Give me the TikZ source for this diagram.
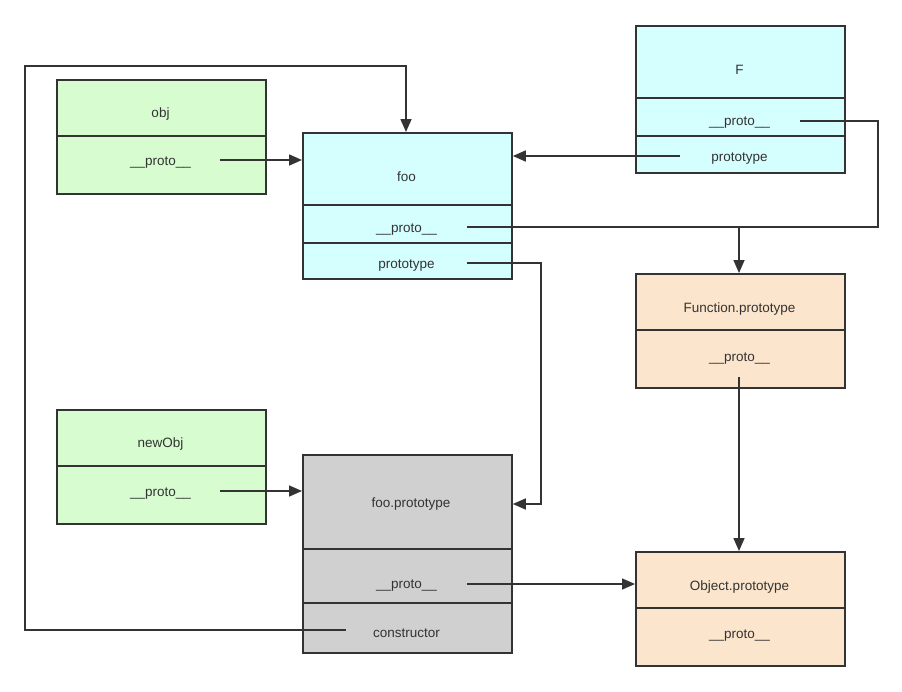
\documentclass[tikz,border=0pt]{standalone}
\usepackage{fontspec}
\setmainfont{Liberation Sans}
\usetikzlibrary{arrows.meta}
\definecolor{cyanfill}{HTML}{D5FEFF}
\definecolor{greenfill}{HTML}{D6FCD0}
\definecolor{peachfill}{HTML}{FCE5CD}
\definecolor{grayfill}{HTML}{D0D0D0}
\definecolor{edge}{HTML}{333333}
\definecolor{txt}{HTML}{333333}
\tikzset{
  box/.style={draw=edge, line width=1.8pt, anchor=north west, inner sep=0pt},
  divider/.style={draw=edge, line width=1.3pt},
  lbl/.style={text=txt, font=\fontsize{13.5}{16}\selectfont, inner sep=1pt, yshift=-1.5pt},
  conn/.style={draw=edge, line width=1.6pt},
  arr/.style={conn, -{Triangle[length=13pt,width=11pt]}}
}
\begin{document}
\begin{tikzpicture}[x=1pt,y=-1pt]
\useasboundingbox (0,0) rectangle (902,691);
% F
\node[box, fill=cyanfill, minimum width=209pt, minimum height=147pt] (F) at (635,25) {};
\draw[divider] (635,98) -- (844,98);
\draw[divider] (635,136) -- (844,136);
\node[lbl] (Ft) at (739.5,68) {F};
\node[lbl] (Fp) at (739.5,121) {\_\_proto\_\_};
\node[lbl] (Fpr) at (739.5,157) {prototype};
% obj
\node[box, fill=greenfill, minimum width=209pt, minimum height=114pt] (obj) at (56,79) {};
\draw[divider] (56,136) -- (265,136);
\node[lbl] (objt) at (160.5,113) {obj};
\node[lbl] (objp) at (160.5,161) {\_\_proto\_\_};
% foo
\node[box, fill=cyanfill, minimum width=209pt, minimum height=146pt] (foo) at (302,132) {};
\draw[divider] (302,205) -- (511,205);
\draw[divider] (302,243) -- (511,243);
\node[lbl] (foot) at (406.5,175) {foo};
\node[lbl] (foop) at (406.5,228) {\_\_proto\_\_};
\node[lbl] (foopr) at (406.5,264) {prototype};
% Function.prototype
\node[box, fill=peachfill, minimum width=209pt, minimum height=114pt] (FP) at (635,273) {};
\draw[divider] (635,330) -- (844,330);
\node[lbl] (FPt) at (739.5,308) {Function.prototype};
\node[lbl] (FPp) at (739.5,357) {\_\_proto\_\_};
% newObj
\node[box, fill=greenfill, minimum width=209pt, minimum height=114pt] (nobj) at (56,409) {};
\draw[divider] (56,466) -- (265,466);
\node[lbl] (nobjt) at (160.5,443) {newObj};
\node[lbl] (nobjp) at (160.5,492) {\_\_proto\_\_};
% foo.prototype
\node[box, fill=grayfill, minimum width=209pt, minimum height=198pt] (fp) at (302,454) {};
\draw[divider] (302,549) -- (511,549);
\draw[divider] (302,603) -- (511,603);
\node[lbl] (fpt) at (411,503) {foo.prototype};
\node[lbl] (fpp) at (406.5,584) {\_\_proto\_\_};
\node[lbl] (fpc) at (406.5,632) {constructor};
% Object.prototype
\node[box, fill=peachfill, minimum width=209pt, minimum height=114pt] (OP) at (635,551) {};
\draw[divider] (635,608) -- (844,608);
\node[lbl] (OPt) at (739.5,585) {Object.prototype};
\node[lbl] (OPp) at (739.5,634) {\_\_proto\_\_};
% connector endpoints
\coordinate (objS) at (220,160);
\coordinate (FprS) at (680,156);
\coordinate (FpS) at (800,121);
\coordinate (foopS) at (467,227);
\coordinate (fooprS) at (467,263);
\coordinate (nobjS) at (220,491);
\coordinate (fppS) at (467,584);
\coordinate (FPpS) at (739,377);
\coordinate (fpcS) at (346,630);
\coordinate (join) at (739,227);
% connectors
\draw[arr] (objS) -- (objS -| foo.west);
\draw[arr] (FprS) -- (FprS -| foo.east);
\draw[conn] (foopS) -- (join);
\draw[arr] (FpS) -- (878,121) -- (878,227) -- (join) -- (join |- FP.north);
\draw[arr] (fooprS) -- (541,263) -- (541,504) -- (fp.east |- 0,504);
\draw[arr] (nobjS) -- (nobjS -| fp.west);
\draw[arr] (fppS) -- (fppS -| OP.west);
\draw[arr] (FPpS) -- (FPpS |- OP.north);
\draw[arr] (fpcS) -- (25,630) -- (25,66) -- (406,66) -- (406,0 |- foo.north);
\end{tikzpicture}
\end{document}
